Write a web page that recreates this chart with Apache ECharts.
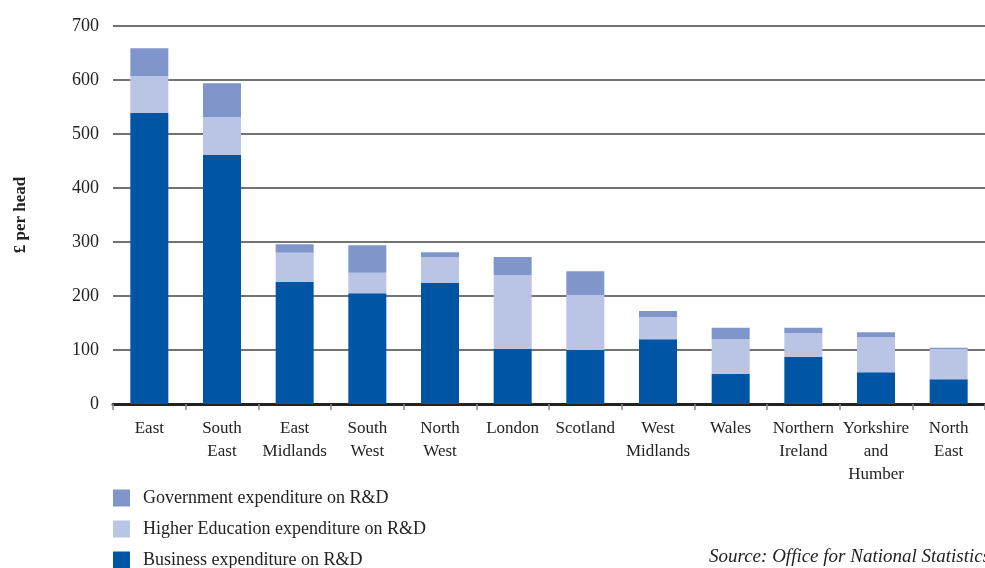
<!DOCTYPE html>
<html>
<head>
<meta charset="utf-8">
<style>
  html, body { margin: 0; padding: 0; background: #fff; }
  #main { width: 985px; height: 568px; }
</style>
<script src="https://cdn.jsdelivr.net/npm/echarts@6/dist/echarts.min.js"></script>
</head>
<body>
<div id="main"></div>
<script>
let regions = ['East', 'South\nEast', 'East\nMidlands', 'South\nWest', 'North\nWest', 'London',
    'Scotland', 'West\nMidlands', 'Wales', 'Northern\nIreland', 'Yorkshire\nand\nHumber', 'North\nEast']
let business = [539, 461, 226, 205, 224, 102, 100, 120, 56, 87, 59, 46]
let higherEd = [68, 70, 54, 38, 48, 137, 102, 41, 64, 44, 65, 56]
let government = [52, 63, 16, 51, 9, 33, 44, 11, 21, 10, 9, 2]
let yTicks = [0, 100, 200, 300, 400, 500, 600, 700]

let font = '"Liberation Serif", "DejaVu Serif", serif'
let myChart = echarts.init(document.getElementById('main'))

let option = {
    textStyle: { fontFamily: font },
    legend: {
        orient: 'vertical',
        left: 113,
        top: 489,
        height: 100,
        padding: 0,
        itemWidth: 17,
        itemHeight: 17,
        itemGap: 13,
        icon: 'rect',
        textStyle: { fontFamily: font, fontSize: 18, color: '#222', padding: [0, 0, 0, 8] },
        data: ['Government expenditure on R&D', 'Higher Education expenditure on R&D', 'Business expenditure on R&D']
    },
    grid: {
        left: 113,
        top: 26,
        width: 880,
        height: 378
    },
    xAxis: {
        type: 'category',
        data: regions,
        axisLine: { lineStyle: { color: '#222', width: 3 } },
        axisTick: { show: true, length: 6, lineStyle: { color: '#888', width: 1.5 } },
        axisLabel: {
            interval: 0,
            fontFamily: font,
            fontSize: 17,
            color: '#222',
            lineHeight: 23,
            margin: 13
        }
    },
    yAxis: {
        type: 'value',
        min: yTicks[0],
        max: yTicks[yTicks.length - 1],
        interval: 100,
        name: '£ per head',
        nameLocation: 'middle',
        nameGap: 84,
        nameTextStyle: { fontFamily: font, fontSize: 17, fontWeight: 'bold', color: '#222' },
        axisLine: { show: false },
        axisTick: { show: false },
        axisLabel: { fontFamily: font, fontSize: 18, color: '#222', margin: 14 },
        splitLine: { lineStyle: { color: '#444', width: 1.5 } }
    },
    series: [
        {
            name: 'Business expenditure on R&D',
            type: 'bar',
            stack: 'total',
            barWidth: 38,
            itemStyle: { color: '#0055A5' },
            data: business
        },
        {
            name: 'Higher Education expenditure on R&D',
            type: 'bar',
            stack: 'total',
            barWidth: 38,
            itemStyle: { color: '#BAC4E4' },
            data: higherEd
        },
        {
            name: 'Government expenditure on R&D',
            type: 'bar',
            stack: 'total',
            barWidth: 38,
            itemStyle: { color: '#8096CA' },
            data: government
        }
    ],
    graphic: [
        {
            type: 'text',
            left: 709,
            top: 547,
            style: {
                text: 'Source: Office for National Statistics',
                font: 'italic 19px ' + font,
                fill: '#222'
            }
        }
    ]
}

myChart.setOption(option)
</script>
</body>
</html>
